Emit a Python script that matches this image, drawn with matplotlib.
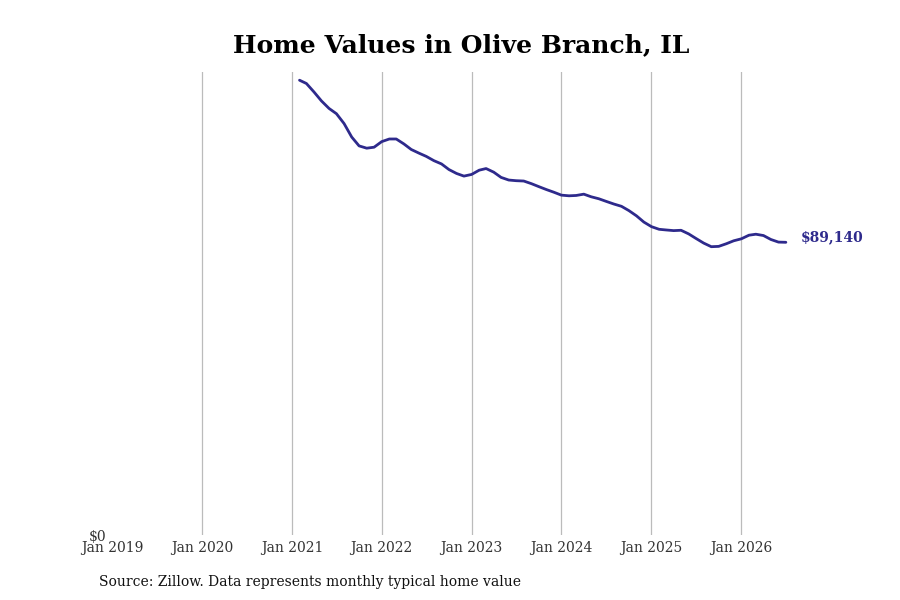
import matplotlib

matplotlib.use("Agg")
import matplotlib.dates as mdates
import matplotlib.pyplot as plt
import pandas as pd

# monthly typical home value, Feb 2021 .. Jul 2026
start_month = "2021-02-01"
values = [
    138500, 137500, 134900, 132200, 129900, 128300, 125300, 121200, 118500, 117800, 118100,
    119800, 120600, 120600, 119100, 117400, 116300, 115300, 114000, 113000, 111300, 110100, 109300,
    109800, 111100, 111600, 110500, 108900, 108100, 107900, 107800, 107000, 106100, 105200, 104400,
    103500, 103300, 103400, 103800, 103000, 102400, 101600, 100800, 100100, 98800, 97200, 95300,
    93900, 93100, 92900, 92700, 92800, 91700, 90300, 88900, 87800, 87900, 88700, 89600,
    90200, 91300, 91600, 91200, 90000, 89200, 89140,
]
tick_years = list(range(2019, 2027))
title = "Home Values in Olive Branch, IL"
source = "Source: Zillow. Data represents monthly typical home value"

LINE = "#2e2a8c"

plt.rcParams["font.family"] = ["DejaVu Serif"]

dates = pd.date_range(start_month, periods=len(values), freq="MS")

fig = plt.figure(figsize=(9, 6), dpi=100)
ax = fig.add_axes([0.1244, 0.1083, 0.7756, 0.7717])

ax.plot(dates, values, color=LINE, linewidth=2.0, solid_capstyle="round")
ax.annotate(
    f"${values[-1]:,}",
    xy=(dates[-1], values[-1]),
    xytext=(11, 4),
    textcoords="offset points",
    va="center",
    ha="left",
    fontsize=10,
    fontweight="bold",
    color=LINE,
)

ax.set_xlim(pd.Timestamp("2019-01-01"), pd.Timestamp("2026-10-07"))
ax.set_ylim(0, 141000)

ticks = [pd.Timestamp(f"{y}-01-01") for y in tick_years]
ax.set_xticks(ticks)
ax.xaxis.set_major_formatter(mdates.DateFormatter("Jan %Y"))
ax.set_yticks([0])
ax.set_yticklabels(["$0"])
ax.tick_params(axis="both", length=0, labelsize=10, labelcolor="#333333")
ax.tick_params(axis="x", pad=4)
ax.tick_params(axis="y", pad=4)

ax.grid(axis="x", color="#bbbbbb", linewidth=0.9)
ax.grid(axis="y", visible=False)
ax.xaxis.get_gridlines()[0].set_visible(False)
for side in ax.spines.values():
    side.set_visible(False)

fig.text(0.512, 0.925, title, ha="center", va="center", fontsize=18, fontweight="bold")
fig.text(0.11, 0.03, source, ha="left", va="center", fontsize=10, color="#111111")

fig.savefig("out.png", dpi=100)
